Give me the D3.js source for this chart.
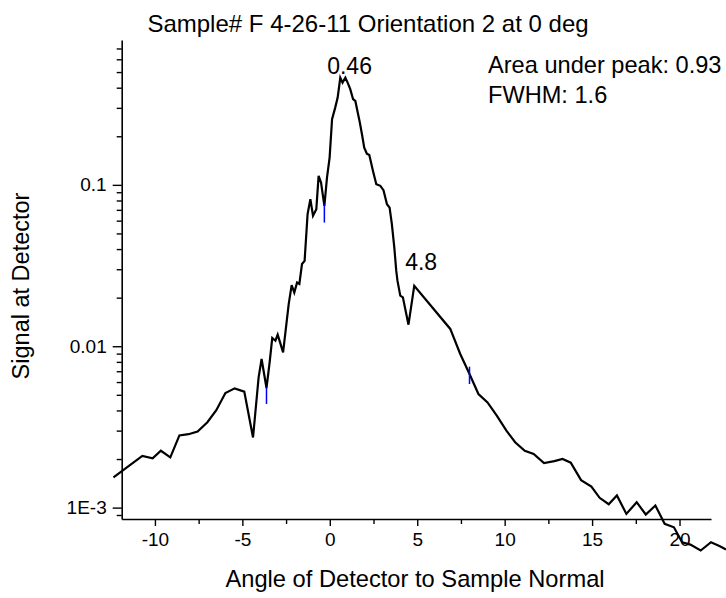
<!DOCTYPE html>
<html>
<head>
<meta charset="utf-8">
<script src="https://cdn.jsdelivr.net/npm/d3@7"></script>
<style>
  html, body { margin: 0; padding: 0; background: #fff; }
  svg { display: block; font-family: "Liberation Sans", Arial, sans-serif; }
</style>
</head>
<body>
<svg id="chart" width="726" height="598"></svg>
<script>
// ---- data ----
const angles = [
  -12.37, -10.72, -10.13, -9.66, -9.12, -8.60, -8.08, -7.56, -7.00, -6.49,
  -5.97, -5.44, -4.89, -4.39, -4.07, -3.90, -3.62, -3.44, -3.29, -3.11,
  -2.98, -2.67, -2.35, -2.18, -2.03, -1.87, -1.74, -1.59, -1.44, -1.27,
  -1.11, -0.96, -0.77, -0.64, -0.50, -0.31, -0.16, -0.01, 0.13, 0.31,
  0.45, 0.60, 0.73, 0.89, 1.02, 1.17, 1.33, 1.46, 1.70, 1.84,
  1.97, 2.12, 2.26, 2.47, 2.66, 2.89, 3.07, 3.27, 3.42, 3.55,
  3.69, 3.80, 3.87, 4.03, 4.18, 4.50, 4.83, 6.89, 7.46, 7.99,
  8.50, 9.02, 9.55, 10.10, 10.60, 11.15, 11.66, 12.25, 12.84, 13.31,
  13.78, 14.37, 14.96, 15.43, 15.95, 16.42, 16.96, 17.55, 18.07, 18.62,
  19.15, 19.68, 20.15, 20.62, 21.21, 21.80, 22.31, 22.66
];
const signal = [
  0.00154, 0.00209, 0.00202, 0.00225, 0.00205, 0.00280, 0.00285, 0.00296, 0.00338, 0.00401,
  0.00513, 0.00548, 0.00523, 0.00272, 0.00641, 0.00834, 0.00551, 0.00795, 0.01125, 0.01082,
  0.01178, 0.00916, 0.01824, 0.0239, 0.0215, 0.0248, 0.0243, 0.0323, 0.0338, 0.0659,
  0.0815, 0.0643, 0.0707, 0.1137, 0.1033, 0.0741, 0.1110, 0.1475, 0.2552, 0.301,
  0.3476, 0.461, 0.430, 0.461, 0.430, 0.392, 0.340, 0.331, 0.249, 0.206,
  0.170, 0.156, 0.153, 0.122, 0.101, 0.0986, 0.0927, 0.0759, 0.0723, 0.0571,
  0.0409, 0.0294, 0.0255, 0.0206, 0.0201, 0.0136, 0.0237, 0.0128, 0.00895, 0.00673,
  0.00506, 0.00449, 0.00371, 0.00300, 0.00254, 0.00225, 0.00215, 0.00189, 0.00194, 0.00200,
  0.00190, 0.00148, 0.00135, 0.00115, 0.00105, 0.00119, 0.000914, 0.00108, 0.000906, 0.00103,
  0.000793, 0.000755, 0.000610, 0.000590, 0.000542, 0.000610, 0.000576, 0.000550
];
// blue marker segments (angle, low, high)
const markerAngles = [-3.62, -0.31, 7.99];
const markerLow = [0.00439, 0.0584, 0.00583];
const markerHigh = [0.00556, 0.0760, 0.00747];

const xDomain = [-11.9, 21.8];
const yDomain = [0.00085, 0.79];
const xMajorTicks = [-10, -5, 0, 5, 10, 15, 20];
const xTickLabels = ["-10", "-5", "0", "5", "10", "15", "20"];
const xMinorTicks = [-7.5, -2.5, 2.5, 7.5, 12.5, 17.5];
const yMajorTicks = [0.001, 0.01, 0.1];
const yTickLabels = ["1E-3", "0.01", "0.1"];
const yMinorTicks = [0.0009, 0.002, 0.003, 0.004, 0.005, 0.006, 0.007, 0.008, 0.009,
  0.02, 0.03, 0.04, 0.05, 0.06, 0.07, 0.08, 0.09, 0.2, 0.3, 0.4, 0.5, 0.6, 0.7];

const titleText = "Sample# F 4-26-11 Orientation 2 at 0 deg";
const xTitle = "Angle of Detector to Sample Normal";
const yTitle = "Signal at Detector";
const peakLabels = ["0.46", "4.8"];
const peakLabelX = [1.13, 4.31];
const peakLabelY = [0.484, 0.0297];
const infoLines = ["Area under peak: 0.93", "FWHM: 1.6"];

// ---- drawing ----
(function draw() {
  const svg = d3.select("#chart");
  svg.append("rect").attr("width", 726).attr("height", 598).attr("fill", "#fff");

  const mLeft = 121.7, mRight = 711, mTop = 40, mBottom = 519;
  const x = d3.scaleLinear().domain(xDomain).range([mLeft, mRight]);
  const y = d3.scaleLog().domain(yDomain).range([mBottom, mTop]);

  // x axis
  svg.append("g").attr("transform", `translate(0,${mBottom})`)
    .call(d3.axisBottom(x).tickValues(xMajorTicks).tickSize(7).tickSizeOuter(0)
      .tickPadding(7).tickFormat((d, i) => xTickLabels[i]));
  svg.append("g").attr("transform", `translate(0,${mBottom})`)
    .call(d3.axisBottom(x).tickValues(xMinorTicks).tickSize(5).tickFormat(""))
    .call(g => g.select(".domain").remove());

  // y axis
  svg.append("g").attr("transform", `translate(${mLeft},0)`)
    .call(d3.axisLeft(y).tickValues(yMajorTicks).tickSize(9).tickSizeOuter(0)
      .tickPadding(6).tickFormat((d, i) => yTickLabels[i]));
  svg.append("g").attr("transform", `translate(${mLeft},0)`)
    .call(d3.axisLeft(y).tickValues(yMinorTicks).tickSize(5).tickFormat(""))
    .call(g => g.select(".domain").remove());

  svg.selectAll(".domain").attr("stroke", "#000").attr("stroke-width", 1.6);
  svg.selectAll(".tick line").attr("stroke", "#000").attr("stroke-width", 1.4);
  svg.selectAll(".tick text").attr("fill", "#000").attr("font-size", 19)
    .attr("font-family", "Liberation Sans, Arial, sans-serif");

  // data line (not clipped)
  const pts = angles.map((a, i) => [a, signal[i]]);
  svg.append("path").datum(pts)
    .attr("fill", "none").attr("stroke", "#000").attr("stroke-width", 2.2)
    .attr("stroke-linejoin", "miter")
    .attr("d", d3.line().x(d => x(d[0])).y(d => y(d[1])));

  // blue markers
  svg.selectAll(".marker").data(markerAngles).enter().append("line")
    .attr("x1", d => x(d)).attr("x2", d => x(d))
    .attr("y1", (d, i) => y(markerHigh[i])).attr("y2", (d, i) => y(markerLow[i]))
    .attr("stroke", "#0000ff").attr("stroke-width", 1.5);

  // titles
  svg.append("text").attr("x", 368).attr("y", 32).attr("text-anchor", "middle")
    .attr("font-size", 24).text(titleText);
  svg.append("text").attr("x", 415).attr("y", 587).attr("text-anchor", "middle")
    .attr("font-size", 23.7).text(xTitle);
  svg.append("text").attr("transform", "translate(29,286) rotate(-90)")
    .attr("text-anchor", "middle").attr("font-size", 23.5).text(yTitle);

  // peak labels
  svg.selectAll(".peak").data(peakLabels).enter().append("text")
    .attr("x", (d, i) => x(peakLabelX[i])).attr("y", (d, i) => y(peakLabelY[i]))
    .attr("text-anchor", (d, i) => i === 0 ? "middle" : "start")
    .attr("font-size", 23).text(d => d);

  // info text
  svg.selectAll(".info").data(infoLines).enter().append("text")
    .attr("x", 488).attr("y", (d, i) => 72.7 + i * 30.6)
    .attr("font-size", 23.6).text(d => d);
})();
</script>
</body>
</html>
